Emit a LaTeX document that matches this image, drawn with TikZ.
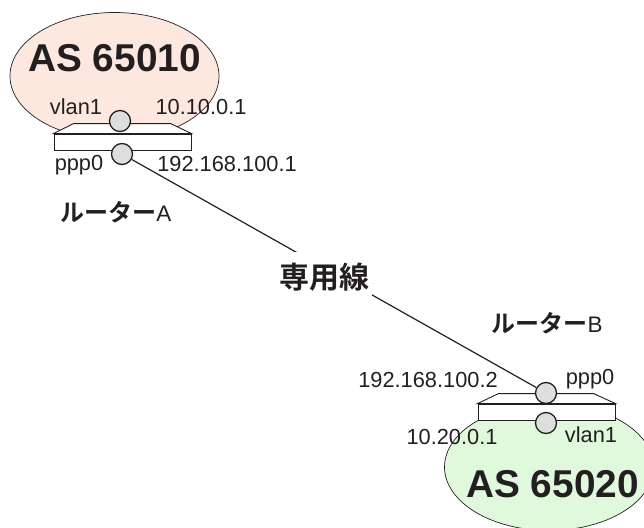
\documentclass[tikz,border=0pt]{standalone}
\usepackage{fontspec}
\setmainfont{Liberation Sans}
\newfontfamily\cjk{Noto Sans CJK JP}[BoldFont={Noto Sans CJK JP Bold}]
\usetikzlibrary{shapes.geometric}
\definecolor{aspink}{HTML}{FDE8E0}
\definecolor{asgreen}{HTML}{E0F9DC}
\definecolor{ifgray}{HTML}{DEDEDE}
\definecolor{inktext}{HTML}{231F20}
\tikzset{
  asarea/.style={ellipse,draw=inktext,line width=0.7pt,minimum width=209pt,minimum height=127pt,inner sep=0pt},
  asname/.style={font=\fontsize{38.8}{40}\selectfont\bfseries,text=inktext,inner sep=0pt},
  rtrbox/.style={rectangle,draw=inktext,fill=white,line width=0.9pt,minimum width=137pt,minimum height=16pt,inner sep=0pt},
  rtrtop/.style={draw=inktext,fill=white,line width=0.9pt},
  ifport/.style={circle,draw=inktext,fill=ifgray,line width=1.3pt,minimum size=21pt,inner sep=0pt},
  addr/.style={font=\fontsize{21.8}{23}\selectfont,text=inktext,inner sep=0pt},
  rtrname/.style={font=\fontsize{24}{26}\selectfont,text=inktext,inner sep=0pt},
}
\begin{document}
\begin{tikzpicture}[x=1pt,y=-1pt]
  \useasboundingbox (0,0) rectangle (644,527);
  \clip (0,0) rectangle (644,527);
  \node[asarea,fill=aspink] (asA) at (114.5,76) {};
  \node[asarea,fill=asgreen] (asB) at (549,467) {};
  \node[rtrbox] (rtrA) at (122.5,142) {};
  \node[rtrbox] (rtrB) at (546.5,412) {};
  \draw[rtrtop] (rtrA.north west) -- ++(20,-10) -- ++(97,0) -- (rtrA.north east) -- cycle;
  \draw[rtrtop] (rtrB.north west) -- ++(21,-10) -- ++(95,0) -- (rtrB.north east) -- cycle;
  \node[ifport] (vlanA) at (120,121) {};
  \node[ifport] (pppA) at (122,154) {};
  \node[ifport] (pppB) at (546,393) {};
  \node[ifport] (vlanB) at (546,423) {};
  \draw[inktext,line width=1.2pt] (pppA) -- (pppB);
  \node[fill=white,font=\cjk\bfseries\fontsize{30}{32}\selectfont,text=inktext,inner sep=3pt,minimum height=50pt] (line) at (324,277) {専用線};
  \node[asname] (nameA) at (114.5,58) {AS 65010};
  \node[asname] (nameB) at (552.5,484) {AS 65020};
  \node[addr] (vlanlblA) at (76,107) {vlan1};
  \node[addr] (ipA) at (201,107) {10.10.0.1};
  \node[addr] (ppplblA) at (79,165) {ppp0};
  \node[addr] (wanA) at (227,164) {192.168.100.1};
  \node[addr] (wanB) at (428,380) {192.168.100.2};
  \node[addr] (ppplblB) at (590,379) {ppp0};
  \node[addr] (ipB) at (452,437) {10.20.0.1};
  \node[addr] (vlanlblB) at (591,435) {vlan1};
  \node[rtrname] (titleA) at (116,212) {{\cjk\bfseries ルーター}\fontsize{22.5}{24}\selectfont A};
  \node[rtrname] (titleB) at (547,323) {{\cjk\bfseries ルーター}\fontsize{22.5}{24}\selectfont B};
\end{tikzpicture}
\end{document}
